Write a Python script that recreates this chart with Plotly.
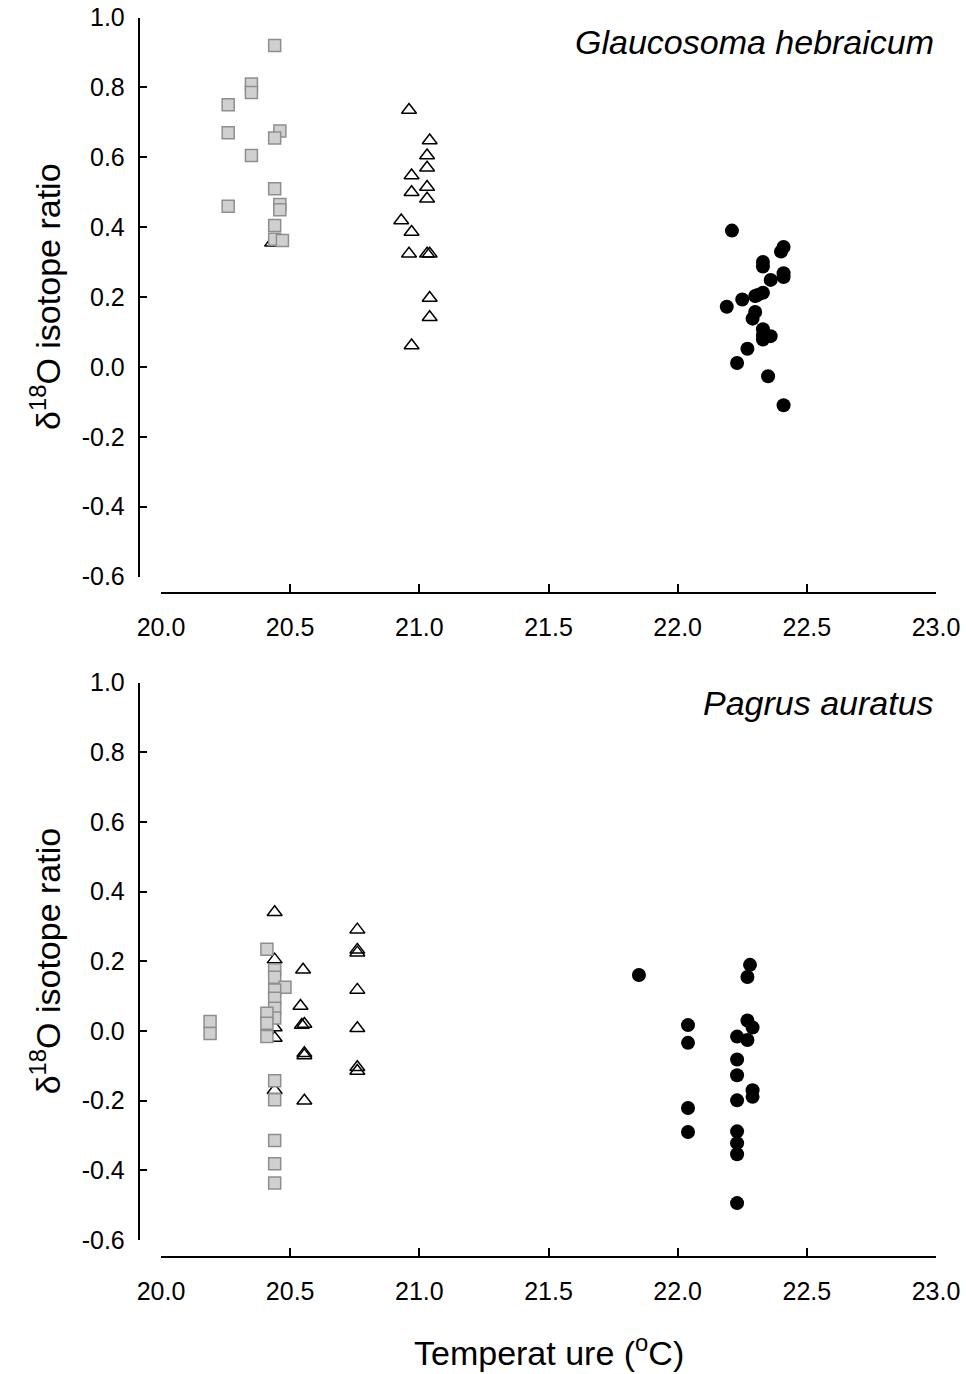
import plotly.graph_objects as go

# ---------------- data ----------------
# Glaucosoma hebraicum (top)
sq_x_top = [20.44, 20.35, 20.35, 20.26, 20.26, 20.46, 20.44, 20.35, 20.44, 20.26, 20.46, 20.46, 20.44, 20.44, 20.47]
sq_y_top = [0.92, 0.81, 0.785, 0.75, 0.67, 0.675, 0.655, 0.605, 0.51, 0.46, 0.465, 0.45, 0.405, 0.365, 0.362]

tri_x_top = [20.96, 21.04, 21.03, 21.03, 20.97, 21.03, 20.97, 21.03, 20.93, 20.97, 20.96, 21.03, 21.04, 21.04, 21.04, 20.97, 20.43]
tri_y_top = [0.735, 0.648, 0.605, 0.57, 0.548, 0.515, 0.5, 0.481, 0.419, 0.386, 0.324, 0.324, 0.324, 0.197, 0.142, 0.061, 0.355]

circ_x_top = [22.21, 22.41, 22.40, 22.33, 22.33, 22.41, 22.41, 22.36, 22.33, 22.31, 22.30, 22.25, 22.19,
              22.30, 22.29, 22.33, 22.33, 22.36, 22.33, 22.27, 22.23, 22.35, 22.41]
circ_y_top = [0.39, 0.343, 0.33, 0.30, 0.287, 0.268, 0.257, 0.249, 0.212, 0.206, 0.203, 0.193, 0.172,
              0.157, 0.138, 0.108, 0.09, 0.088, 0.078, 0.052, 0.011, -0.027, -0.11]

# Pagrus auratus (bottom)
sq_x_bot = [20.19, 20.19, 20.41, 20.44, 20.44, 20.48, 20.44, 20.44, 20.44, 20.44, 20.41, 20.41, 20.41,
            20.44, 20.44, 20.44, 20.44, 20.44]
sq_y_bot = [0.027, -0.007, 0.235, 0.176, 0.154, 0.126, 0.118, 0.094, 0.065, 0.037, 0.051, 0.022, -0.016,
            -0.143, -0.197, -0.314, -0.381, -0.436]

tri_x_bot = [20.44, 20.44, 20.55, 20.54, 20.545, 20.555, 20.555, 20.555, 20.555, 20.44, 20.44, 20.44,
             20.76, 20.76, 20.76, 20.76, 20.76, 20.76, 20.76]
tri_y_bot = [0.341, 0.205, 0.176, 0.072, 0.017, 0.02, -0.064, -0.07, -0.2, 0.01, -0.02, -0.17,
             0.291, 0.233, 0.225, 0.118, 0.008, -0.104, -0.115]

circ_x_bot = [21.85, 22.28, 22.27, 22.04, 22.04, 22.27, 22.29, 22.23, 22.27, 22.23, 22.23, 22.29, 22.29,
              22.23, 22.04, 22.04, 22.23, 22.23, 22.23, 22.23]
circ_y_bot = [0.161, 0.19, 0.155, 0.017, -0.034, 0.03, 0.01, -0.016, -0.026, -0.082, -0.127, -0.17, -0.189,
              -0.199, -0.221, -0.29, -0.288, -0.322, -0.354, -0.494]

x_ticks = [20.0, 20.5, 21.0, 21.5, 22.0, 22.5, 23.0]
y_ticks = [-0.6, -0.4, -0.2, 0.0, 0.2, 0.4, 0.6, 0.8, 1.0]
x_tick_text = ["%.1f" % v for v in x_ticks]
y_tick_text = ["%.1f" % v for v in y_ticks]

species = ["<i>Glaucosoma hebraicum</i>", "<i>Pagrus auratus</i>"]
y_title = "δ<sup>18</sup>O isotope ratio"
x_title = "Temperat ure (<sup>o</sup>C)"

# ---------------- figure ----------------
W, H = 966, 1374
FONT = "Arial, Liberation Sans, sans-serif"

tri_style = dict(symbol="triangle-up-open", size=13, color="black", line=dict(color="black", width=1.5))
sq_style = dict(symbol="square", size=12, color="#d0d0d0", line=dict(color="#8e8e8e", width=1.5))
circ_style = dict(symbol="circle", size=14, color="black", line=dict(width=0))

fig = go.Figure()
panels = [
    ("x", "y", tri_x_top, tri_y_top, sq_x_top, sq_y_top, circ_x_top, circ_y_top),
    ("x2", "y2", tri_x_bot, tri_y_bot, sq_x_bot, sq_y_bot, circ_x_bot, circ_y_bot),
]
for xa, ya, tx, ty, sx, sy, cx, cy in panels:
    fig.add_trace(go.Scatter(x=tx, y=ty, mode="markers", marker=tri_style, xaxis=xa, yaxis=ya, showlegend=False))
    fig.add_trace(go.Scatter(x=sx, y=sy, mode="markers", marker=sq_style, xaxis=xa, yaxis=ya, showlegend=False))
    fig.add_trace(go.Scatter(x=cx, y=cy, mode="markers", marker=circ_style, xaxis=xa, yaxis=ya, showlegend=False))


def px_x(p):
    return p / W


def px_y(p):
    return 1 - p / H


x_dom = [px_x(161), px_x(936)]
yaxis_pos = px_x(138.5)

common_x = dict(range=[20, 23], tickmode="array", tickvals=x_ticks, ticktext=x_tick_text,
                ticks="inside", ticklen=8, tickwidth=1.5, tickcolor="black",
                showline=True, linecolor="black", linewidth=1.5, showgrid=False, zeroline=False,
                tickfont=dict(family=FONT, size=25, color="black"), ticklabelstandoff=13,
                domain=x_dom, anchor="free", automargin=False)
common_y = dict(range=[-0.6, 1.0], tickmode="array", tickvals=y_ticks, ticktext=y_tick_text,
                ticks="inside", ticklen=8, tickwidth=1.5, tickcolor="black",
                showline=True, linecolor="black", linewidth=1.5, showgrid=False, zeroline=False,
                tickfont=dict(family=FONT, size=25, color="black"), ticklabelstandoff=8,
                anchor="free", position=yaxis_pos, automargin=False)

fig.update_layout(
    width=W, height=H,
    margin=dict(l=0, r=0, t=0, b=0, pad=0, autoexpand=False),
    paper_bgcolor="white", plot_bgcolor="white",
    font=dict(family=FONT, color="black"),
    xaxis=dict(common_x, position=px_y(592.7)),
    yaxis=dict(common_y, domain=[px_y(576.5), px_y(17.5)]),
    xaxis2=dict(common_x, position=px_y(1256.7)),
    yaxis2=dict(common_y, domain=[px_y(1240), px_y(682.7)]),
)

annos = [
    dict(text=species[0], x=px_x(936), y=px_y(42), xanchor="right", yanchor="middle"),
    dict(text=species[1], x=px_x(936), y=px_y(703), xanchor="right", yanchor="middle"),
    dict(text=y_title, x=px_x(45), y=px_y((17.5 + 576.5) / 2), textangle=-90, xanchor="center", yanchor="middle"),
    dict(text=y_title, x=px_x(45), y=px_y((682.7 + 1240) / 2), textangle=-90, xanchor="center", yanchor="middle"),
    dict(text=x_title, x=px_x(548.5), y=px_y(1350), xanchor="center", yanchor="middle"),
]
for a in annos:
    fig.add_annotation(xref="paper", yref="paper", showarrow=False,
                       font=dict(family=FONT, size=34, color="black"), **a)

fig.write_html("out.html")
